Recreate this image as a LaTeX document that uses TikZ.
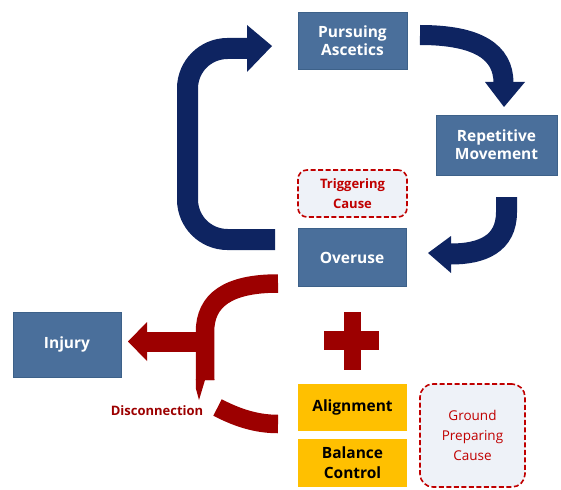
\documentclass[tikz,border=0pt]{standalone}
\usepackage{fontspec}
\setmainfont{Open Sans}
\definecolor{boxblue}{HTML}{4A6F9B}
\definecolor{boxedge}{HTML}{3D6189}
\definecolor{navy}{HTML}{0E2461}
\definecolor{darkred}{HTML}{9C0000}
\definecolor{dashred}{HTML}{C00000}
\definecolor{gold}{HTML}{FFC000}
\definecolor{paleblue}{HTML}{EEF2F8}
\tikzset{
  bluebox/.style={draw=boxedge, line width=0.8pt, fill=boxblue, text=white, font=\bfseries\fontsize{15.5}{18}\selectfont, align=center, inner sep=0pt},
  goldbox/.style={fill=gold, text=black, font=\bfseries\fontsize{15.5}{20}\selectfont, align=center, inner sep=0pt},
  causebox/.style={draw=dashred, dash pattern=on 5pt off 2.5pt, line width=1.6pt, fill=paleblue, text=dashred, rounded corners=9pt, align=center, inner sep=0pt},
  navyarrow/.style={draw=navy, line cap=butt},
  redarrow/.style={draw=darkred, line cap=butt}
}
\begin{document}
\begin{tikzpicture}[x=1pt,y=-1pt]
\useasboundingbox (0,0) rectangle (561,489);
% boxes
\node[bluebox, minimum width=109pt, minimum height=57pt] (pa) at (352.5,40.5) {Pursuing\\Ascetics};
\node[bluebox, minimum width=121pt, minimum height=60pt] (rm) at (496.5,145) {Repetitive\\Movement};
\node[bluebox, minimum width=108pt, minimum height=58pt] (ov) at (352,257.5) {Overuse};
\node[bluebox, minimum width=108pt, minimum height=65pt] (inj) at (67,344.5) {Injury};
\node[causebox, minimum width=109pt, minimum height=47pt, font=\bfseries\fontsize{13}{20}\selectfont] (tc) at (352.5,193.5) {Triggering\\Cause};
\node[goldbox, minimum width=109pt, minimum height=47pt] (al) at (352.5,407.5) {Alignment};
\node[goldbox, minimum width=109pt, minimum height=48pt] (bc) at (352.5,463) {Balance\\Control};
\node[causebox, rounded corners=13pt, minimum width=105pt, minimum height=103pt, font=\fontsize{13.5}{20}\selectfont] (gp) at (472.5,435.5) {Ground\\Preparing\\Cause};
% navy loop arrow
\draw[navyarrow, line width=21pt, rounded corners=40pt] (275,239.5) -- (187.5,239.5) -- (187.5,48.5) -- (248,48.5);
\fill[navy] (247,25) -- (272,46) -- (247,72) -- cycle;
% top right arrow
\draw[navyarrow, line width=20pt] (420,35) .. controls (478,35) and (503.5,52) .. (503.5,83);
\fill[navy] (485,82) -- (525,82) -- (504,107) -- cycle;
% bottom right arrow
\draw[navyarrow, line width=21pt] (506.5,197) -- (506.5,212) .. controls (506.5,244) and (482,254) .. (451,254);
\fill[navy] (451,236) -- (428,253) -- (451,273) -- cycle;
% red arrows
\draw[redarrow, line width=18.5pt] (278,283.5) .. controls (228,283.5) and (205,300) .. (205,332) -- (205,380);
\fill[darkred] (195.75,379) -- (195.75,388) -- (199,400) -- (205,380) -- (214.25,380) -- (214.25,379) -- cycle;
\fill[darkred] (205,332) rectangle (147,352);
\fill[darkred] (147,322) -- (128,341.5) -- (147,361) -- cycle;
\draw[redarrow, line width=18.5pt] (217.5,407.5) .. controls (236,417) and (255,424) .. (278,424);
% plus
\fill[darkred] (343.5,312) rectangle (360.5,370);
\fill[darkred] (324,331) rectangle (379,350);
% label
\node[text=darkred, font=\bfseries\fontsize{13}{15}\selectfont, inner sep=0pt] (dis) at (157,411) {Disconnection};
\end{tikzpicture}
\end{document}
